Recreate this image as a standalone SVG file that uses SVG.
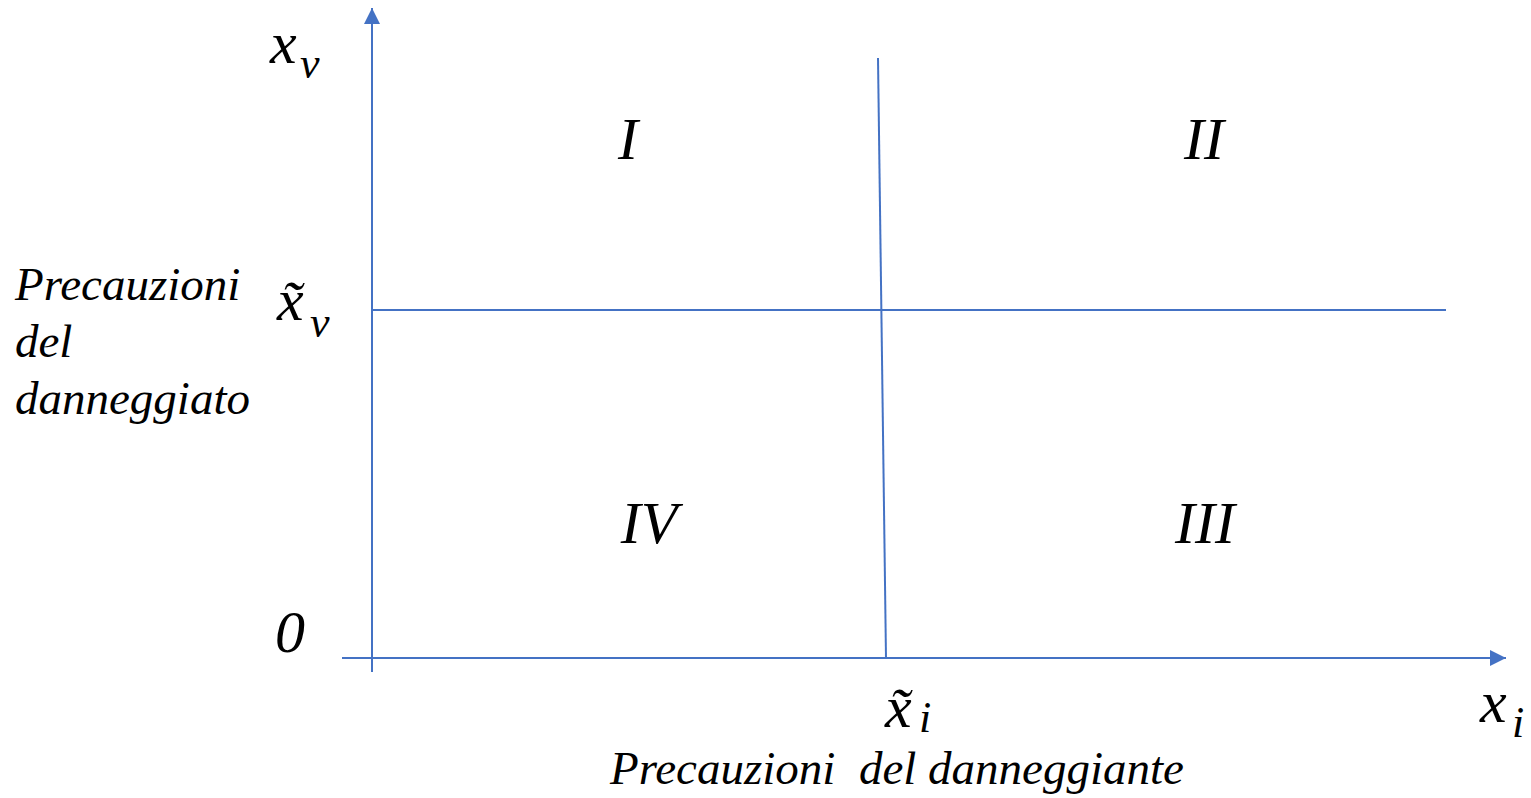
<svg xmlns="http://www.w3.org/2000/svg" width="1531" height="798" viewBox="0 0 1531 798">
<style>
.ln{stroke:#4472C4;stroke-width:2;fill:none}
text{font-family:'Liberation Serif','Times New Roman','DejaVu Serif',serif;font-style:italic;fill:#000}
.lab{font-size:47px}
.num{font-size:60px}
.mx{font-size:60px}
.sub{font-size:44px}
</style>
<defs>
<marker id="ah" viewBox="0 0 16 16" refX="16" refY="8" markerWidth="16" markerHeight="16" markerUnits="userSpaceOnUse" orient="auto">
<path d="M0,0 L16,8 L0,16 Z" fill="#4472C4"/>
</marker>
</defs>
<g id="connectors">
<line class="ln" x1="372" y1="672" x2="372" y2="8" marker-end="url(#ah)"/>
<line class="ln" x1="342" y1="658" x2="1506" y2="658" marker-end="url(#ah)"/>
<line class="ln" x1="372" y1="310" x2="1446" y2="310"/>
<line class="ln" x1="878" y1="58" x2="886" y2="658"/>
</g>
<g id="region-I"><text class="num" x="628" y="159" text-anchor="middle">I</text></g>
<g id="region-II"><text class="num" x="1204" y="159" text-anchor="middle">II</text></g>
<g id="region-IV"><text class="num" x="649" y="543" text-anchor="middle">IV</text></g>
<g id="region-III"><text class="num" x="1205" y="543" text-anchor="middle">III</text></g>
<g id="label-xv"><text class="mx"><tspan x="270" y="63">x</tspan><tspan class="sub" x="300" y="78">v</tspan></text></g>
<g id="label-xv-tilde"><text class="mx"><tspan x="277" y="320">x̃</tspan><tspan class="sub" x="310" y="337">v</tspan></text></g>
<g id="label-xi-tilde"><text class="mx"><tspan x="885" y="727">x̃</tspan><tspan class="sub" x="919" y="732" font-size="40">i</tspan></text></g>
<g id="label-xi"><text class="mx"><tspan x="1480" y="722">x</tspan><tspan class="sub" x="1512" y="737">i</tspan></text></g>
<g id="label-zero"><text class="num" x="275" y="652">0</text></g>
<g id="label-y-axis"><text class="lab"><tspan x="15" y="300">Precauzioni</tspan><tspan x="15" y="357">del</tspan><tspan x="15" y="414">danneggiato</tspan></text></g>
<g id="label-x-axis"><text class="lab" x="610" y="784" xml:space="preserve">Precauzioni  del danneggiante</text></g>
</svg>
